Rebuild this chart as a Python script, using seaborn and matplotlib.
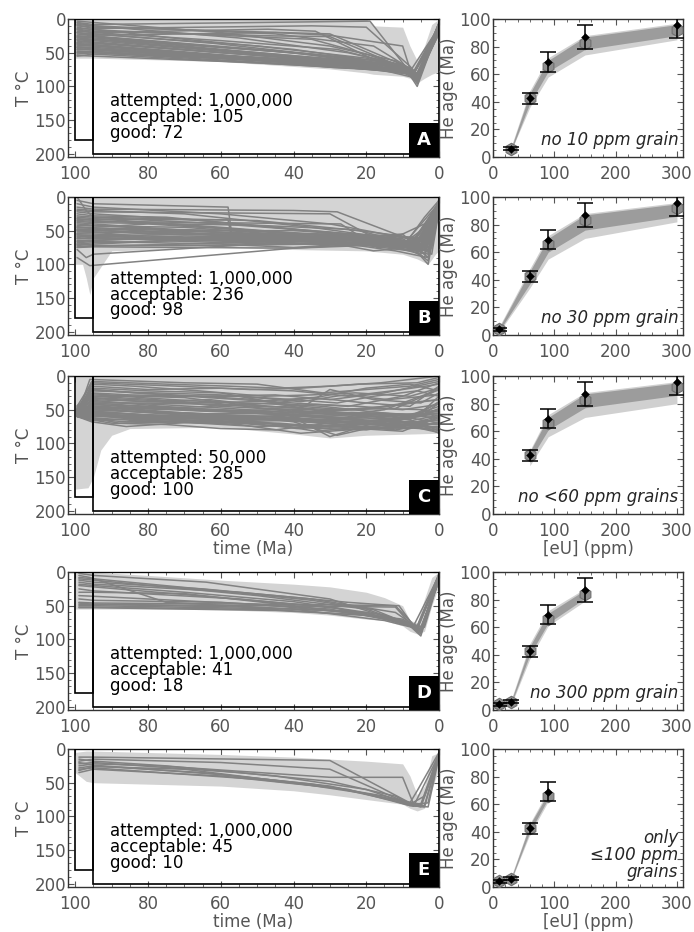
import pandas as pd
import seaborn as sns
import matplotlib.pyplot as plt
from matplotlib.patches import Rectangle
from matplotlib.ticker import MultipleLocator

sns.set_theme(style="ticks")
plt.rcParams["font.family"] = ["DejaVu Sans"]

LINE = "#828282"
ENV = "#d4d4d4"
AXC = "#555555"
FS = 12

# ---------------- observed He ages (all grains) ----------------
obs_eu = [10, 30, 60, 90, 150, 300]
obs_age = [4, 6, 42.5, 69, 87, 95.5]
obs_err = [1, 1, 4, 7, 9, 9]

# ---------------- panel A ----------------
counts_a = "attempted: 1,000,000\nacceptable: 105\ngood: 72"
env_t_a = [100, 95, 60, 30, 20, 18, 10, 8, 6, 4, 2, 0]
env_top_a = [0, 0, 0, 0, 0, 10, 12, 40, 62, 40, 8, 0]
env_bot_a = [58, 58, 63, 74, 80, 82, 85, 88, 95, 88, 82, 78]
paths_a = [
    [(99.5, 5), (95, 8), (19, 3), (9, 72), (6, 86), (0, 8)],
    [(99.5, 10), (95, 12), (30, 22), (10, 68), (6, 90), (0, 15)],
    [(99.5, 15), (95, 18), (45, 25), (30, 26), (9, 74), (6, 95), (0, 10)],
    [(99.5, 20), (95, 22), (50, 40), (20, 58), (8, 76), (6, 88), (0, 20)],
    [(99.5, 25), (95, 26), (40, 50), (10, 72), (6, 84), (0, 6)],
    [(99.5, 30), (95, 30), (28, 62), (8, 78), (6, 80), (0, 14)],
    [(99.5, 35), (95, 36), (60, 50), (15, 65), (7, 82), (0, 18)],
    [(99.5, 40), (95, 40), (30, 66), (9, 75), (6, 100), (0, 12)],
    [(99.5, 45), (95, 46), (20, 70), (8, 80), (6, 86), (0, 8)],
    [(99.5, 50), (95, 50), (30, 70), (8, 80), (6, 85), (0, 20)],
    [(99.5, 55), (95, 52), (40, 68), (10, 78), (6, 92), (0, 10)],
    [(99.5, 8), (95, 10), (45, 22), (18, 40), (9, 70), (6, 84), (0, 16)],
    [(99.5, 12), (95, 16), (35, 30), (20, 52), (8, 75), (6, 86), (0, 5)],
    [(99.5, 18), (95, 20), (47, 15), (34, 18), (18, 60), (8, 78), (0, 12)],
    [(99.5, 22), (95, 25), (50, 45), (25, 57), (8, 77), (6, 90), (0, 18)],
    [(99.5, 28), (95, 30), (55, 48), (22, 62), (9, 74), (6, 82), (0, 10)],
    [(99.5, 32), (95, 34), (70, 45), (30, 63), (10, 70), (6, 86), (0, 22)],
    [(99.5, 38), (95, 38), (65, 52), (29, 72), (17, 74), (6, 88), (0, 14)],
    [(99.5, 42), (95, 42), (60, 55), (24, 67), (8, 82), (6, 96), (0, 8)],
    [(99.5, 48), (95, 48), (50, 62), (20, 72), (8, 78), (6, 84), (0, 18)],
    [(99.5, 3), (95, 5), (60, 20), (30, 40), (12, 62), (7, 78), (0, 10)],
    [(99.5, 16), (95, 20), (60, 32), (28, 45), (8, 72), (6, 86), (0, 6)],
    [(99.5, 26), (95, 28), (45, 48), (15, 63), (8, 80), (6, 90), (0, 16)],
    [(99.5, 36), (95, 35), (40, 58), (15, 68), (7, 80), (0, 12)],
    [(99.5, 44), (95, 45), (55, 58), (25, 68), (9, 76), (6, 92), (0, 20)],
    [(99.5, 52), (95, 50), (45, 62), (18, 70), (8, 79), (6, 84), (0, 6)],
    [(99.5, 6), (95, 10), (55, 28), (25, 50), (10, 68), (6, 86), (0, 14)],
    [(99.5, 34), (95, 30), (65, 40), (35, 52), (15, 66), (7, 82), (0, 10)],
    [(99.5, 24), (95, 22), (62, 36), (30, 55), (12, 70), (6, 88), (0, 8)],
    [(99.5, 46), (95, 44), (65, 54), (30, 64), (10, 74), (6, 80), (0, 16)],
    [(99.5, 14), (95, 15), (70, 30), (40, 45), (15, 64), (8, 76), (6, 84), (0, 12)],
    [(99.5, 30), (95, 32), (50, 52), (25, 64), (9, 78), (6, 88), (0, 18)],
    [(99.5, 40), (95, 38), (55, 55), (20, 66), (8, 80), (6, 92), (0, 6)],
    [(99.5, 50), (95, 48), (60, 58), (30, 68), (10, 76), (6, 84), (0, 14)],
    [(99.5, 20), (95, 24), (45, 20), (30, 24), (10, 40), (8, 74), (6, 86), (0, 10)],
    [(99.5, 9), (95, 14), (35, 10), (20, 12), (8, 70), (6, 82), (0, 16)],
    [(99.5, 37), (95, 40), (45, 60), (25, 64), (9, 72), (6, 90), (0, 8)],
    [(99.5, 27), (95, 26), (70, 40), (45, 52), (18, 66), (7, 80), (0, 20)],
    [(99.5, 54), (95, 55), (50, 65), (20, 74), (8, 82), (6, 86), (0, 12)],
    [(99.5, 42), (95, 44), (75, 50), (40, 60), (20, 68), (8, 80), (6, 88), (0, 14)],
]
grains_a = [30, 60, 90, 150, 300]
model_a = [6, 43, 66, 83, 92]
light_lo_a = [5, 36, 58, 74, 85]
light_hi_a = [8, 48, 72, 88, 97]
dark_lo_a = [5, 39, 62, 78, 88]
dark_hi_a = [7, 46, 70, 87, 96]

# ---------------- panel B ----------------
counts_b = "attempted: 1,000,000\nacceptable: 236\ngood: 98"
env_t_b = [100, 98, 97, 96, 95, 90, 60, 40, 20, 10, 6, 3, 1, 0]
env_top_b = [0, 0, 0, 0, 0, 0, 0, 0, 0, 0, 0, 0, 0, 0]
env_bot_b = [100, 100, 120, 145, 120, 80, 75, 78, 80, 85, 92, 100, 85, 80]
paths_b = [
    [(99.5, 5), (95, 10), (58, 15), (57, 55), (20, 65), (5, 75), (0, 10)],
    [(99.5, 30), (95, 32), (60, 45), (25, 60), (10, 70), (3, 80), (0, 20)],
    [(99.5, 50), (95, 50), (60, 55), (30, 62), (15, 70), (5, 85), (0, 5)],
    [(99.5, 70), (95, 68), (50, 62), (20, 65), (8, 70), (3, 100), (0, 15)],
    [(99.5, 40), (95, 42), (70, 50), (40, 58), (18, 80), (8, 75), (0, 25)],
    [(99.5, 60), (95, 58), (60, 62), (30, 68), (10, 75), (4, 30), (0, 5)],
    [(99.5, 20), (95, 22), (30, 25), (18, 60), (8, 72), (0, 8)],
    [(99.5, 75), (95, 74), (40, 76), (20, 70), (6, 80), (0, 12)],
    [(99.5, 45), (95, 45), (80, 40), (45, 52), (20, 58), (5, 70), (0, 30)],
    [(99.5, 55), (95, 55), (70, 60), (40, 62), (25, 60), (10, 55), (3, 90), (0, 18)],
    [(99.5, 35), (95, 36), (65, 38), (27, 40), (17, 75), (7, 65), (0, 10)],
    [(99.5, 65), (95, 64), (55, 60), (35, 58), (15, 62), (5, 80), (0, 22)],
    [(99.5, 25), (95, 28), (75, 30), (40, 48), (18, 62), (6, 70), (0, 5)],
    [(99.5, 10), (95, 15), (60, 25), (30, 40), (15, 55), (5, 65), (0, 15)],
    [(99.5, 90), (96, 102), (40, 76), (20, 72), (8, 80), (0, 18)],
    [(99.5, 52), (95, 52), (50, 58), (22, 62), (12, 60), (4, 40), (0, 28)],
    [(99.5, 62), (95, 62), (45, 64), (25, 70), (12, 80), (3, 90), (0, 10)],
    [(99.5, 38), (95, 40), (55, 55), (30, 60), (12, 65), (4, 75), (0, 3)],
    [(99.5, 72), (95, 70), (75, 65), (50, 60), (20, 60), (8, 70), (0, 25)],
    [(99.5, 15), (95, 18), (40, 20), (28, 22), (12, 55), (5, 70), (0, 8)],
    [(99.5, 48), (95, 48), (80, 55), (50, 55), (30, 55), (10, 62), (2, 85), (0, 20)],
    [(99.5, 58), (95, 57), (65, 56), (35, 65), (18, 62), (6, 68), (0, 12)],
    [(99.5, 28), (95, 30), (50, 35), (22, 50), (9, 68), (3, 78), (0, 5)],
    [(99.5, 68), (95, 66), (60, 70), (40, 75), (20, 68), (6, 72), (0, 18)],
    [(99.5, 42), (95, 43), (70, 45), (45, 55), (25, 63), (10, 70), (0, 30)],
    [(99.5, 0), (97, 20), (95, 30), (60, 40), (30, 52), (12, 62), (4, 72), (0, 6)],
    [(99.5, 78), (97, 90), (95, 85), (50, 70), (25, 68), (8, 72), (0, 14)],
    [(99.5, 54), (95, 53), (60, 50), (40, 50), (20, 56), (6, 60), (2, 70), (0, 22)],
    [(99.5, 33), (95, 33), (58, 34), (57, 60), (30, 65), (10, 72), (0, 9)],
    [(99.5, 66), (95, 65), (70, 58), (45, 60), (25, 62), (12, 70), (3, 85), (0, 16)],
    [(99.5, 18), (95, 20), (70, 25), (35, 45), (15, 60), (5, 78), (0, 12)],
    [(99.5, 46), (95, 46), (55, 50), (30, 57), (15, 58), (5, 62), (0, 26)],
    [(99.5, 58), (95, 60), (65, 65), (40, 68), (15, 72), (4, 78), (0, 4)],
    [(99.5, 36), (95, 38), (50, 42), (25, 48), (10, 58), (3, 70), (0, 14)],
    [(99.5, 74), (95, 73), (55, 68), (35, 64), (15, 66), (4, 80), (0, 20)],
    [(99.5, 62), (95, 60), (70, 66), (45, 70), (25, 70), (10, 72), (4, 90), (0, 10)],
    [(99.5, 50), (95, 52), (80, 60), (55, 64), (30, 66), (12, 74), (5, 70), (0, 24)],
    [(99.5, 32), (95, 35), (75, 40), (50, 50), (30, 58), (12, 64), (4, 85), (0, 8)],
    [(99.5, 44), (95, 47), (65, 54), (40, 66), (20, 62), (8, 66), (2, 75), (0, 16)],
    [(99.5, 56), (95, 58), (75, 62), (50, 66), (28, 64), (14, 68), (4, 72), (0, 30)],
    [(99.5, 22), (95, 25), (65, 35), (45, 45), (25, 55), (10, 64), (3, 95), (0, 12)],
    [(99.5, 70), (95, 72), (60, 72), (35, 70), (18, 72), (6, 74), (0, 6)],
    [(99.5, 48), (95, 50), (85, 48), (60, 52), (40, 56), (20, 64), (8, 68), (0, 20)],
]
grains_b = [10, 60, 90, 150, 300]
model_b = [4, 43, 66, 83, 92]
light_lo_b = [2, 34, 55, 70, 82]
light_hi_b = [6, 48, 72, 88, 96]
dark_lo_b = [3, 37, 60, 76, 86]
dark_hi_b = [5, 46, 70, 87, 95]

# ---------------- panel C ----------------
counts_c = "attempted: 50,000\nacceptable: 285\ngood: 100"
env_t_c = [100, 96.5, 95, 93, 90, 85, 60, 40, 30, 20, 0]
env_top_c = [0, 0, 0, 0, 0, 0, 0, 0, 0, 0, 0]
env_bot_c = [168, 166, 150, 110, 88, 78, 76, 86, 92, 88, 85]
paths_c = [
    [(99.5, 60), (96, 5), (70, 10), (50, 12), (32, 25), (20, 20), (8, 15), (0, 5)],
    [(99.5, 55), (95.5, 20), (75, 28), (55, 35), (40, 40), (25, 45), (10, 30), (0, 10)],
    [(99.5, 58), (95.5, 40), (80, 45), (60, 50), (45, 55), (30, 60), (15, 50), (0, 20)],
    [(99.5, 60), (95.5, 55), (85, 60), (65, 62), (48, 70), (35, 75), (18, 68), (5, 60), (0, 40)],
    [(99.5, 50), (95.5, 30), (78, 35), (60, 45), (42, 50), (28, 55), (12, 58), (0, 70)],
    [(99.5, 45), (95.5, 10), (72, 15), (52, 20), (38, 18), (22, 12), (6, 10), (0, 2)],
    [(99.5, 60), (95.5, 62), (88, 70), (70, 68), (55, 72), (38, 85), (25, 80), (10, 75), (0, 80)],
    [(99.5, 52), (95.5, 45), (82, 50), (62, 58), (40, 62), (30, 90), (18, 70), (5, 55), (0, 30)],
    [(99.5, 56), (95.5, 35), (70, 40), (50, 38), (35, 32), (20, 40), (8, 45), (0, 15)],
    [(99.5, 48), (95.5, 25), (85, 28), (65, 30), (45, 28), (30, 35), (15, 25), (0, 8)],
    [(99.5, 59), (95.5, 50), (75, 55), (58, 58), (44, 60), (32, 65), (20, 62), (6, 70), (0, 85)],
    [(99.5, 54), (95.5, 15), (80, 20), (60, 18), (40, 22), (25, 30), (10, 20), (0, 12)],
    [(99.5, 57), (95.5, 58), (82, 65), (66, 70), (50, 75), (36, 72), (22, 78), (10, 82), (0, 60)],
    [(99.5, 46), (95.5, 38), (78, 42), (58, 48), (40, 55), (27, 50), (14, 45), (0, 35)],
    [(99.5, 60), (95.5, 65), (90, 70), (75, 72), (60, 78), (45, 80), (30, 70), (15, 78), (0, 75)],
    [(99.5, 53), (95.5, 28), (70, 32), (55, 42), (38, 48), (30, 20), (18, 35), (5, 40), (0, 25)],
    [(99.5, 49), (95.5, 45), (86, 52), (68, 55), (52, 60), (40, 68), (28, 88), (15, 72), (0, 50)],
    [(99.5, 58), (95.5, 12), (84, 15), (66, 22), (48, 30), (35, 28), (23, 25), (8, 30), (0, 18)],
    [(99.5, 55), (95.5, 52), (76, 60), (60, 65), (42, 58), (33, 70), (20, 55), (8, 60), (0, 45)],
    [(99.5, 51), (95.5, 33), (80, 38), (63, 35), (47, 45), (30, 50), (18, 48), (4, 50), (0, 65)],
    [(99.5, 59), (95.5, 60), (84, 58), (66, 62), (52, 66), (38, 60), (24, 65), (12, 68), (0, 78)],
    [(99.5, 47), (95.5, 22), (78, 25), (60, 28), (40, 35), (28, 40), (18, 30), (6, 22), (0, 30)],
    [(99.5, 56), (95.5, 48), (82, 46), (64, 52), (46, 50), (32, 55), (16, 60), (0, 55)],
    [(99.5, 60), (95.5, 68), (86, 75), (72, 70), (58, 65), (45, 72), (34, 82), (20, 75), (8, 78), (0, 68)],
    [(99.5, 52), (95.5, 8), (75, 12), (58, 15), (44, 18), (30, 15), (16, 10), (0, 0)],
    [(99.5, 58), (95.5, 42), (80, 48), (63, 45), (47, 40), (32, 45), (20, 52), (10, 58), (0, 62)],
    [(99.5, 50), (95.5, 56), (86, 60), (70, 58), (55, 62), (40, 58), (30, 62), (18, 66), (0, 72)],
    [(99.5, 54), (95.5, 36), (76, 45), (59, 52), (43, 58), (30, 62), (20, 60), (8, 65), (0, 38)],
    [(99.5, 57), (95.5, 18), (80, 22), (60, 25), (45, 40), (32, 30), (20, 18), (8, 12), (0, 22)],
    [(99.5, 60), (95.5, 62), (84, 66), (65, 70), (50, 68), (36, 75), (23, 72), (11, 70), (0, 58)],
    [(99.5, 48), (95.5, 40), (82, 40), (62, 42), (46, 46), (34, 42), (22, 45), (10, 50), (0, 42)],
    [(99.5, 56), (95.5, 54), (80, 58), (62, 60), (48, 64), (28, 68), (15, 65), (4, 72), (0, 82)],
    [(99.5, 44), (95.5, 30), (76, 30), (55, 30), (38, 38), (26, 28), (14, 35), (0, 28)],
    [(99.5, 59), (95.5, 64), (86, 68), (68, 66), (52, 70), (39, 78), (26, 74), (12, 80), (0, 70)],
    [(99.5, 53), (95.5, 46), (74, 50), (56, 54), (42, 52), (28, 58), (16, 55), (4, 58), (0, 48)],
    [(99.5, 58), (95.5, 58), (78, 62), (62, 64), (48, 60), (36, 64), (24, 70), (12, 74), (0, 65)],
    [(99.5, 50), (95.5, 26), (82, 32), (64, 38), (44, 42), (32, 52), (22, 50), (9, 40), (0, 35)],
    [(99.5, 55), (95.5, 50), (80, 54), (64, 56), (50, 56), (34, 58), (22, 58), (10, 62), (0, 52)],
    [(99.5, 60), (95.5, 66), (88, 64), (74, 64), (58, 68), (42, 66), (28, 72), (14, 72), (0, 76)],
    [(99.5, 52), (95.5, 44), (84, 48), (66, 50), (48, 52), (36, 56), (24, 54), (12, 56), (0, 58)],
    [(99.5, 58), (95.5, 52), (85, 56), (70, 60), (55, 64), (42, 64), (30, 66), (18, 68), (6, 74), (0, 62)],
    [(99.5, 55), (95.5, 46), (80, 52), (65, 58), (50, 62), (38, 66), (26, 68), (12, 66), (0, 55)],
    [(99.5, 60), (95.5, 60), (82, 62), (70, 66), (56, 70), (44, 70), (30, 76), (16, 74), (0, 80)],
    [(99.5, 51), (95.5, 42), (78, 46), (62, 50), (46, 56), (34, 60), (22, 62), (10, 64), (0, 40)],
    [(99.5, 57), (95.5, 54), (84, 60), (66, 64), (52, 62), (40, 64), (26, 64), (14, 70), (0, 66)],
    [(99.5, 49), (95.5, 32), (80, 36), (62, 40), (48, 48), (36, 50), (24, 55), (12, 60), (0, 50)],
    [(99.5, 59), (95.5, 56), (88, 58), (72, 62), (54, 66), (42, 62), (32, 68), (20, 70), (8, 72), (0, 72)],
    [(99.5, 53), (95.5, 48), (76, 56), (58, 62), (44, 66), (30, 70), (18, 66), (6, 68), (0, 60)],
    [(99.5, 56), (95.5, 20), (84, 25), (66, 30), (50, 35), (38, 45), (26, 50), (12, 48), (0, 20)],
    [(99.5, 60), (95.5, 58), (80, 64), (60, 68), (46, 74), (32, 78), (20, 80), (10, 72), (0, 84)],
]
grains_c = [60, 90, 150, 300]
model_c = [43, 66, 83, 92]
light_lo_c = [35, 56, 70, 80]
light_hi_c = [46, 72, 88, 96]
dark_lo_c = [39, 61, 77, 86]
dark_hi_c = [45, 70, 87, 95]

# ---------------- panel D ----------------
counts_d = "attempted: 1,000,000\nacceptable: 41\ngood: 18"
env_t_d = [100, 95, 80, 60, 40, 30, 20, 15, 10, 8, 6, 4, 2, 0]
env_top_d = [0, 0, 5, 12, 18, 22, 30, 38, 50, 72, 75, 40, 8, 0]
env_bot_d = [55, 55, 55, 56, 60, 64, 70, 72, 80, 88, 92, 88, 50, 20]
paths_d = [
    [(99, 2), (95, 5), (64, 15), (30, 40), (8, 78), (5, 88), (0, 5)],
    [(99, 45), (95, 46), (40, 48), (11, 50), (7, 80), (5, 85), (0, 8)],
    [(99, 50), (95, 50), (40, 55), (20, 60), (8, 80), (5, 92), (0, 3)],
    [(99, 10), (95, 12), (50, 35), (20, 55), (7, 80), (5, 86), (0, 6)],
    [(99, 15), (95, 18), (55, 30), (25, 45), (12, 50), (7, 78), (4, 82), (0, 10)],
    [(99, 30), (95, 30), (70, 32), (40, 50), (15, 68), (6, 82), (0, 4)],
    [(99, 52), (95, 52), (45, 56), (18, 65), (7, 82), (5, 90), (0, 12)],
    [(99, 5), (96, 8), (75, 45), (40, 55), (15, 72), (6, 84), (0, 2)],
    [(99, 20), (95, 22), (60, 38), (30, 52), (10, 72), (6, 85), (0, 8)],
    [(99, 48), (95, 48), (55, 52), (25, 58), (8, 78), (5, 82), (0, 14)],
    [(99, 12), (95, 15), (65, 25), (35, 40), (12, 60), (6, 82), (0, 6)],
    [(99, 40), (95, 42), (60, 45), (30, 55), (9, 76), (5, 88), (0, 4)],
    [(99, 25), (95, 28), (55, 40), (28, 54), (10, 74), (5, 84), (0, 10)],
    [(99, 8), (95, 10), (60, 28), (35, 42), (18, 56), (7, 80), (0, 5)],
    [(99, 35), (95, 36), (50, 48), (25, 60), (10, 70), (5, 86), (0, 12)],
    [(99, 53), (95, 53), (45, 57), (20, 64), (9, 75), (5, 95), (0, 6)],
    [(99, 18), (95, 20), (70, 30), (40, 44), (15, 64), (6, 80), (0, 3)],
    [(99, 46), (95, 48), (50, 50), (12, 52), (8, 76), (5, 88), (0, 9)],
]
grains_d = [10, 30, 60, 90, 150]
model_d = [4, 6, 43, 66, 84]
light_lo_d = [2, 4, 37, 61, 79]
light_hi_d = [6, 8, 48, 72, 88]
dark_lo_d = [3, 5, 40, 63, 81]
dark_hi_d = [5, 7, 46, 70, 87]

# ---------------- panel E ----------------
counts_e = "attempted: 1,000,000\nacceptable: 45\ngood: 10"
env_t_e = [100, 97, 95, 60, 40, 30, 20, 10, 8, 6, 4, 2, 0]
env_top_e = [5, 3, 3, 8, 12, 15, 18, 22, 40, 68, 55, 10, 5]
env_bot_e = [35, 48, 50, 55, 62, 68, 75, 82, 88, 92, 88, 60, 30]
paths_e = [
    [(99, 12), (95, 12), (30, 17), (8, 80), (5, 84), (0, 8)],
    [(99, 18), (95, 15), (60, 20), (30, 30), (8, 82), (4, 70), (0, 10)],
    [(99, 25), (95, 22), (77, 25), (30, 42), (10, 42), (7, 82), (3, 80), (0, 6)],
    [(99, 30), (95, 28), (50, 45), (28, 58), (8, 82), (5, 86), (0, 12)],
    [(99, 35), (95, 30), (60, 40), (25, 60), (8, 84), (4, 86), (0, 8)],
    [(99, 28), (95, 25), (65, 35), (30, 55), (8, 80), (6, 62), (0, 5)],
    [(99, 15), (95, 18), (75, 25), (45, 40), (20, 60), (8, 82), (4, 84), (0, 10)],
    [(99, 22), (95, 20), (55, 35), (30, 48), (12, 70), (7, 85), (0, 8)],
    [(99, 32), (95, 26), (70, 30), (40, 50), (18, 68), (8, 84), (3, 86), (0, 12)],
    [(99, 20), (95, 24), (60, 38), (35, 52), (15, 70), (9, 78), (5, 82), (0, 6)],
]
grains_e = [10, 30, 60, 90]
model_e = [4, 6, 43, 66]
light_lo_e = [3, 5, 38, 62]
light_hi_e = [5, 8, 46, 70]
dark_lo_e = [3.5, 5.5, 40, 64]
dark_hi_e = [4.5, 7, 45, 68]

panels = [
    ("A", paths_a, env_t_a, env_top_a, env_bot_a, counts_a, grains_a, model_a,
     light_lo_a, light_hi_a, dark_lo_a, dark_hi_a, "no 10 ppm grain"),
    ("B", paths_b, env_t_b, env_top_b, env_bot_b, counts_b, grains_b, model_b,
     light_lo_b, light_hi_b, dark_lo_b, dark_hi_b, "no 30 ppm grain"),
    ("C", paths_c, env_t_c, env_top_c, env_bot_c, counts_c, grains_c, model_c,
     light_lo_c, light_hi_c, dark_lo_c, dark_hi_c, "no <60 ppm grains"),
    ("D", paths_d, env_t_d, env_top_d, env_bot_d, counts_d, grains_d, model_d,
     light_lo_d, light_hi_d, dark_lo_d, dark_hi_d, "no 300 ppm grain"),
    ("E", paths_e, env_t_e, env_top_e, env_bot_e, counts_e, grains_e, model_e,
     light_lo_e, light_hi_e, dark_lo_e, dark_hi_e, "only\n\u2264100 ppm\ngrains"),
]

# axes placement (figure fractions)
row_bottoms = [0.8315, 0.6406, 0.4485, 0.2382, 0.0483]
row_h = 0.148

fig = plt.figure(figsize=(6.94, 9.32), dpi=100)


def style_axes(ax):
    for s in ax.spines.values():
        s.set_color("#333333")
        s.set_linewidth(1.0)
    ax.tick_params(which="both", direction="in", top=True, right=True,
                   colors=AXC, labelsize=FS)
    ax.tick_params(axis="x", which="both", pad=5.5)
    ax.tick_params(axis="y", which="both", pad=1.5)
    ax.tick_params(which="major", length=4, width=0.8)
    ax.tick_params(which="minor", length=2, width=0.6)
    for lab in ax.get_xticklabels() + ax.get_yticklabels():
        lab.set_color(AXC)


for i, (letter, paths, et, etop, ebot, counts, grains, model,
        llo, lhi, dlo, dhi, note) in enumerate(panels):
    # ---------- left: time-temperature paths ----------
    ax = fig.add_axes([0.098, row_bottoms[i], 0.5346, row_h])
    ax.fill_between(et, etop, ebot, color=ENV, lw=0, zorder=1)

    rows = []
    for k, p in enumerate(paths):
        for t, T in p:
            rows.append({"path": k, "time": t, "temp": T})
    df = pd.DataFrame(rows)
    sns.lineplot(data=df, x="time", y="temp", units="path", estimator=None,
                 sort=False, color=LINE, lw=1.1, ax=ax, zorder=2)

    # constraint boxes
    ax.add_patch(Rectangle((95, 0), 5, 180, fill=False, ec="black", lw=1.2, zorder=3))
    ax.add_patch(Rectangle((0, 0), 95, 200, fill=False, ec="black", lw=1.2, zorder=3))

    ax.text(90.5, 108, counts, ha="left", va="top", fontsize=FS,
            linespacing=0.85, color="black", zorder=4)

    ax.add_patch(Rectangle((0.918, 0), 0.082, 0.245, transform=ax.transAxes,
                           facecolor="black", ec="none", zorder=5, clip_on=False))
    ax.text(0.959, 0.12, letter, transform=ax.transAxes, ha="center", va="center",
            color="white", fontsize=13, fontweight="bold", zorder=6)

    ax.set_xlim(102, 0)
    ax.set_ylim(205, 0)
    ax.xaxis.set_major_locator(MultipleLocator(20))
    ax.xaxis.set_minor_locator(MultipleLocator(5))
    ax.yaxis.set_major_locator(MultipleLocator(50))
    ax.yaxis.set_minor_locator(MultipleLocator(10))
    ax.set_ylabel("T \u00b0C", fontsize=FS, color=AXC, labelpad=1)
    if letter in ("C", "E"):
        ax.set_xlabel("time (Ma)", fontsize=FS, color=AXC, labelpad=0)
    else:
        ax.set_xlabel("")
    style_axes(ax)

    # ---------- right: He age vs eU ----------
    bx = fig.add_axes([0.7104, row_bottoms[i], 0.2738, row_h])
    bx.fill_between(grains, llo, lhi, color="#d0d0d0", lw=0, zorder=1)
    bx.fill_between(grains, dlo, dhi, color="#9c9c9c", lw=0, zorder=2)

    mdf = pd.DataFrame({"eU": grains, "age": model})
    sns.scatterplot(data=mdf, x="eU", y="age", marker="h", s=80, color="#8e8e8e",
                    edgecolor="#6f6f6f", linewidth=0.8, ax=bx, zorder=3)

    idx = [obs_eu.index(g) for g in grains]
    odf = pd.DataFrame({"eU": [obs_eu[j] for j in idx],
                        "age": [obs_age[j] for j in idx],
                        "err": [obs_err[j] for j in idx]})
    bx.errorbar(odf["eU"], odf["age"], yerr=odf["err"], fmt="none", ecolor="black",
                elinewidth=1.1, capsize=6, capthick=1.1, zorder=4)
    sns.scatterplot(data=odf, x="eU", y="age", marker="D", s=16, color="black",
                    edgecolor="black", ax=bx, zorder=5)

    if letter == "E":
        bx.text(0.975, 0.04, note, transform=bx.transAxes, ha="right", va="bottom",
                fontsize=FS, style="italic", linespacing=0.95)
    else:
        bx.text(0.975, 0.06, note, transform=bx.transAxes, ha="right", va="bottom",
                fontsize=FS, style="italic")

    bx.set_xlim(0, 310)
    bx.set_ylim(0, 100)
    bx.xaxis.set_major_locator(MultipleLocator(100))
    bx.xaxis.set_minor_locator(MultipleLocator(20))
    bx.yaxis.set_major_locator(MultipleLocator(20))
    bx.yaxis.set_minor_locator(MultipleLocator(5))
    bx.set_ylabel("He age (Ma)", fontsize=FS, color=AXC, labelpad=1)
    if letter in ("C", "E"):
        bx.set_xlabel("[eU] (ppm)", fontsize=FS, color=AXC, labelpad=0)
    else:
        bx.set_xlabel("")
    style_axes(bx)

fig.savefig("out.png", dpi=100)
